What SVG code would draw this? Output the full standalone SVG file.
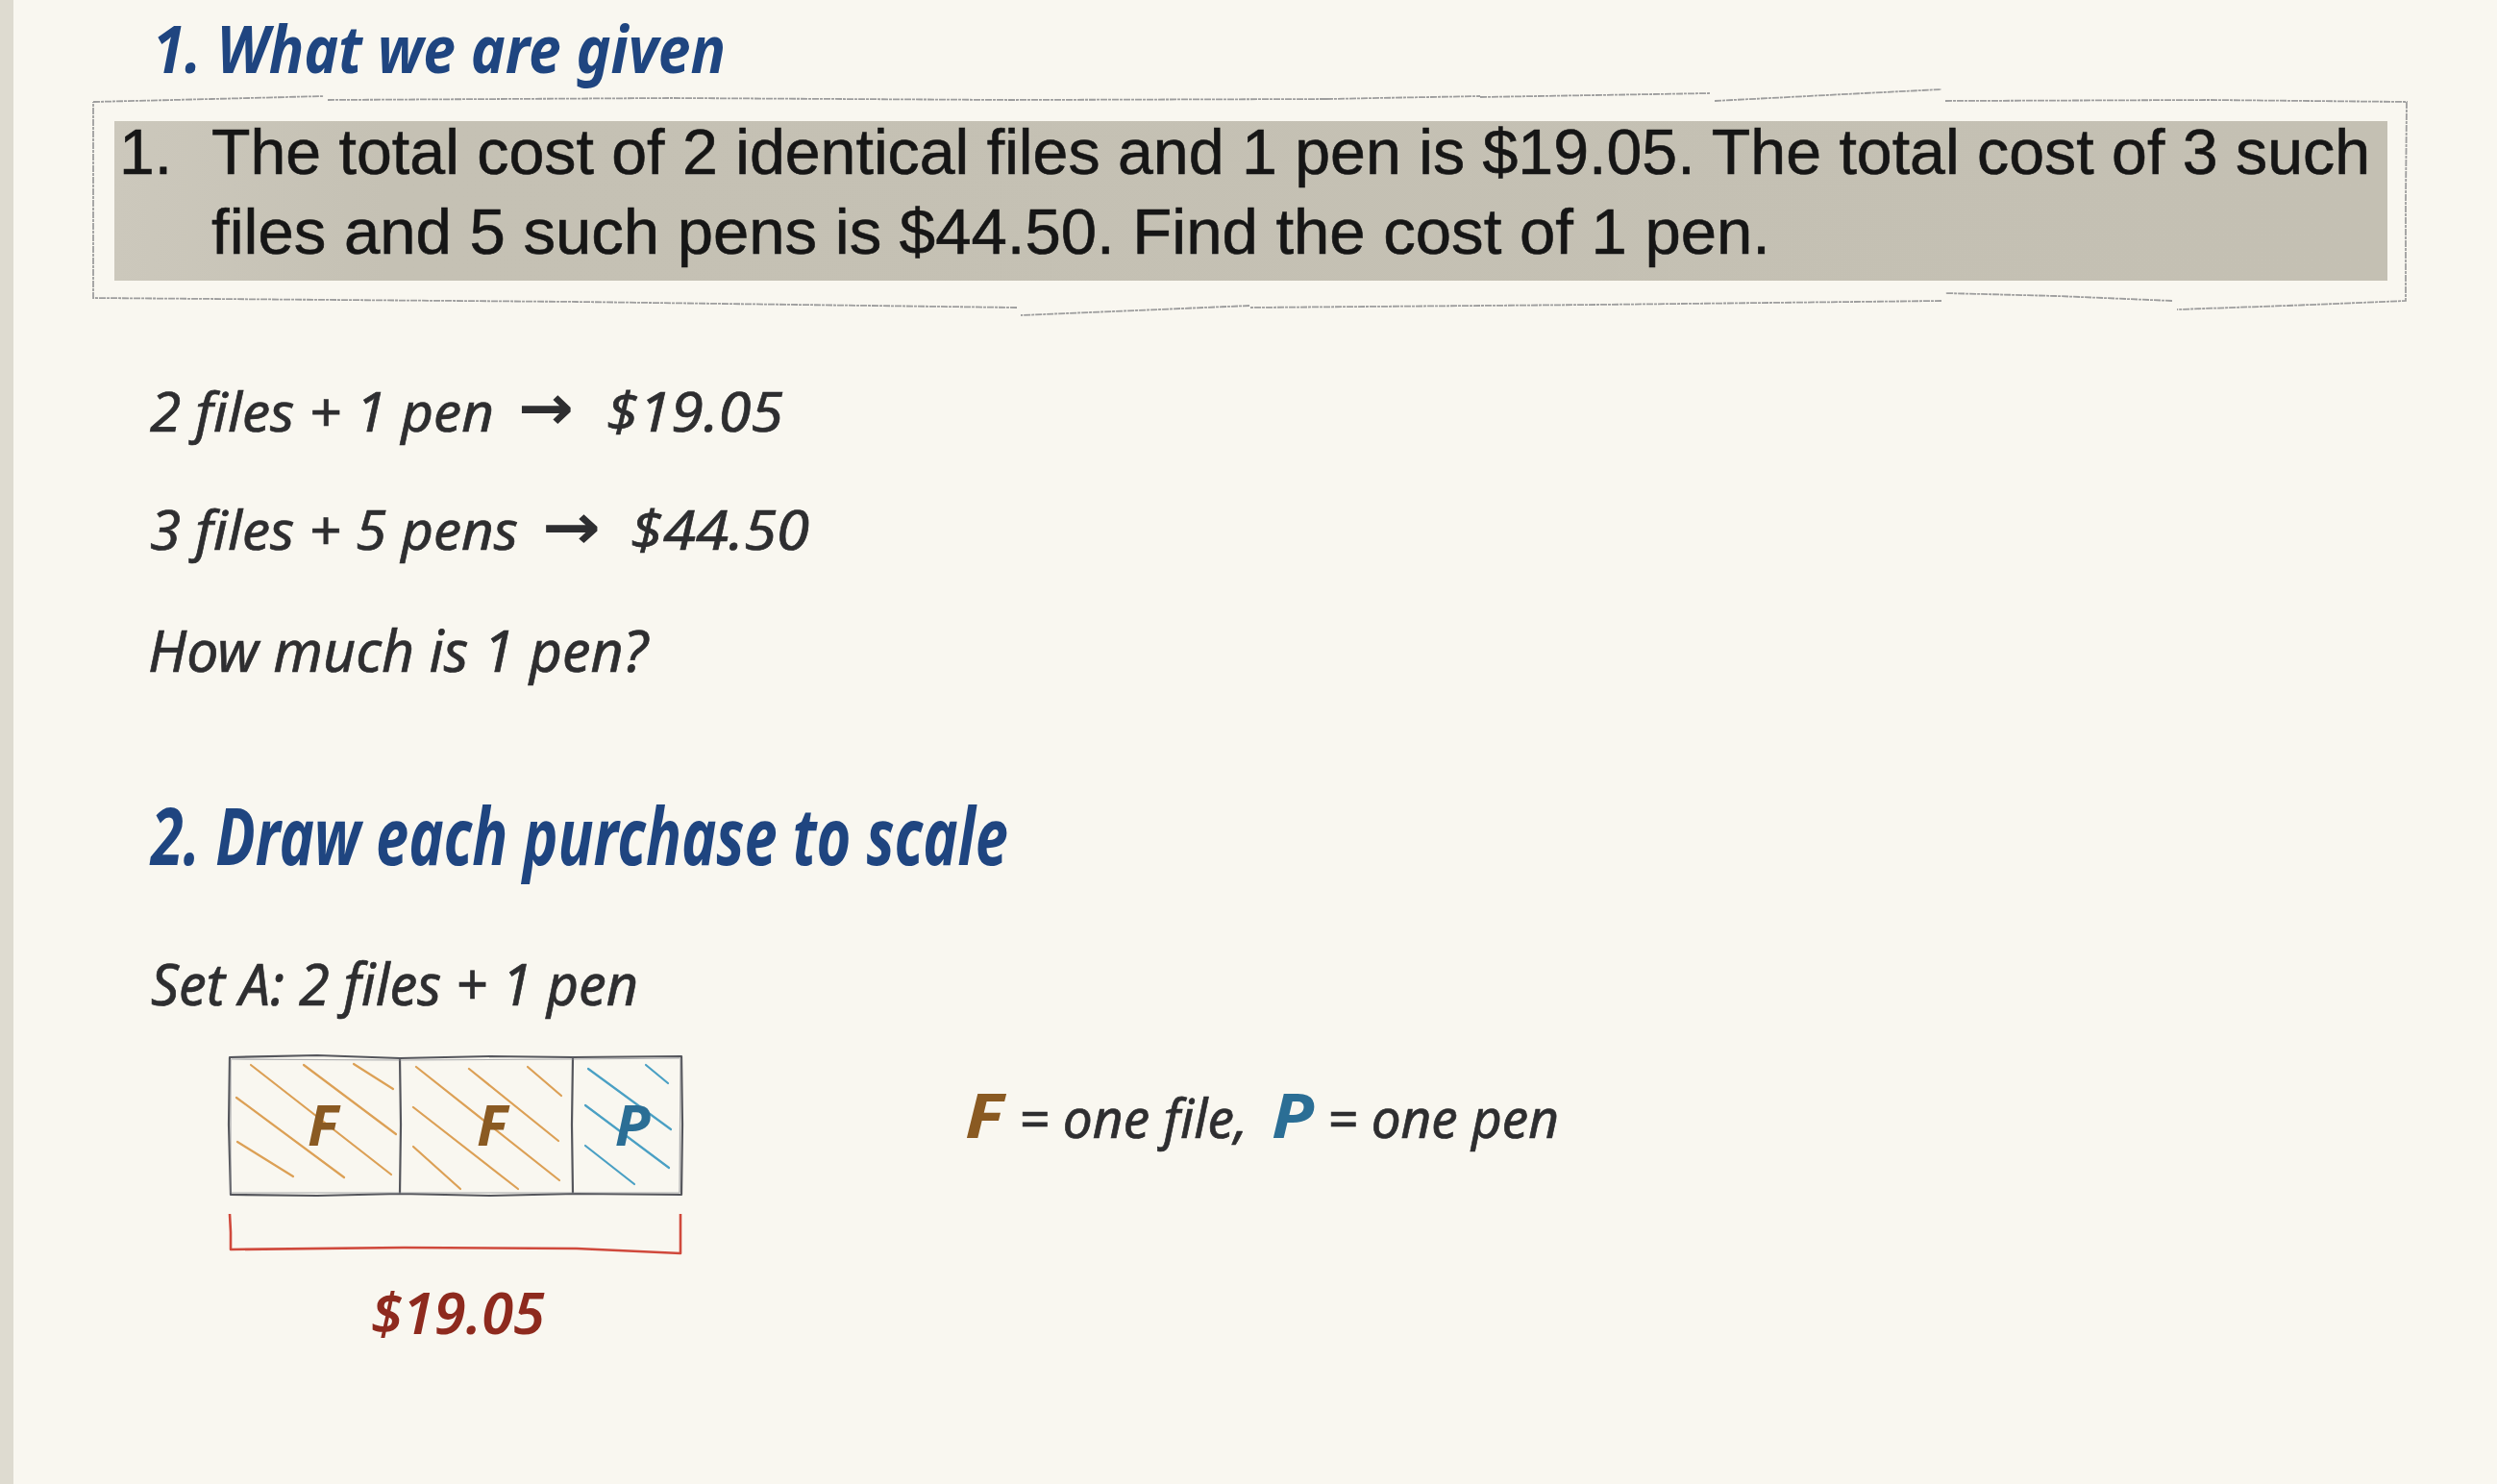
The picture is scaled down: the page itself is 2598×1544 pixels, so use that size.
<svg xmlns="http://www.w3.org/2000/svg" width="2598" height="1544" viewBox="0 0 2598 1544">
<defs>
<linearGradient id="paper" x1="0" y1="0" x2="1" y2="0">
<stop offset="0" stop-color="#ccc8bc"/>
<stop offset="0.12" stop-color="#c5c1b4"/>
<stop offset="1" stop-color="#c4c0b3"/>
</linearGradient>
</defs>
<style>
.hand{font-family:"Noto Sans","DejaVu Sans",sans-serif;font-style:italic;fill:#2e2e30;stroke:#2e2e30;stroke-width:0.7}
.head{font-family:"Noto Sans","DejaVu Sans",sans-serif;font-style:italic;font-weight:bold;fill:#1f4580}
.print{font-family:"Liberation Sans",Arial,sans-serif;fill:#161616;stroke:#161616;stroke-width:0.6}
.arrow{font-family:"DejaVu Sans",sans-serif;font-weight:bold;fill:#2e2e30}
.hatchF{stroke:#dca055;stroke-width:2.2;stroke-linecap:round;fill:none}
.hatchP{stroke:#4aa0c4;stroke-width:2.2;stroke-linecap:round;fill:none}
.cell{fill:none;stroke:#55565c;stroke-width:2.2;stroke-linejoin:round}
.cell2{fill:none;stroke:#8a8b92;stroke-width:1.2;opacity:0.7}
.torn{fill:none;stroke:#9e9e9e;stroke-width:1.8;stroke-dasharray:7 1 3 1}
.lblF{font-family:"Noto Sans","DejaVu Sans",sans-serif;font-style:italic;font-weight:bold;fill:#8a5a22}
.lblP{font-family:"Noto Sans","DejaVu Sans",sans-serif;font-style:italic;font-weight:bold;fill:#2b6e95}
</style>
<rect x="0" y="0" width="2598" height="1544" fill="#f9f7f0"/>
<rect x="0" y="0" width="14" height="1544" fill="#dedbd0"/>

<g id="heading1">
<text class="head" x="159" y="76" font-size="68" textLength="596" lengthAdjust="spacingAndGlyphs">1. What we are given</text>
</g>

<g id="problem">
<rect x="119" y="126" width="2365" height="166" fill="url(#paper)"/>
<path class="torn" d="M97,106 L220,103 L337,100 M341,104 L700,102 L1050,104 L1380,103 M1380,103 L1540,100 M1540,101 L1780,97 M1784,105 L1900,99 L2020,93 M2024,105 L2300,104 L2504,106 L2503,210 L2503,313 L2380,318 L2265,322 M2260,313 L2140,308 L2024,305 M2020,313 L1660,317 L1300,320 M1300,318 L1062,328 M1058,320 L600,314 L97,310 L97,200 L97,106"/>
<text class="print" x="124" y="181" font-size="66">1.</text>
<text class="print" x="220" y="181" font-size="66" textLength="2246" lengthAdjust="spacingAndGlyphs">The total cost of 2 identical files and 1 pen is $19.05. The total cost of 3 such</text>
<text class="print" x="220" y="264" font-size="66" textLength="1622" lengthAdjust="spacingAndGlyphs">files and 5 such pens is $44.50. Find the cost of 1 pen.</text>
</g>

<g id="given1">
<text class="hand" x="156" y="449" font-size="56" textLength="358" lengthAdjust="spacingAndGlyphs">2 files + 1 pen</text>
<text class="arrow" x="539" y="447" font-size="66" textLength="58" lengthAdjust="spacingAndGlyphs">→</text>
<text class="hand" x="631" y="449" font-size="56" textLength="184" lengthAdjust="spacingAndGlyphs">$19.05</text>
</g>
<g id="given2">
<text class="hand" x="156" y="572" font-size="56" textLength="383" lengthAdjust="spacingAndGlyphs">3 files + 5 pens</text>
<text class="arrow" x="564" y="571" font-size="66" textLength="61" lengthAdjust="spacingAndGlyphs">→</text>
<text class="hand" x="656" y="572" font-size="56" textLength="186" lengthAdjust="spacingAndGlyphs">$44.50</text>
</g>
<g id="question">
<text class="hand" x="154" y="699" font-size="60" textLength="520" lengthAdjust="spacingAndGlyphs">How much is 1 pen?</text>
</g>

<g id="heading2">
<text class="head" x="157" y="900" font-size="82" textLength="892" lengthAdjust="spacingAndGlyphs">2. Draw each purchase to scale</text>
</g>

<g id="setA-label">
<text class="hand" x="157" y="1046" font-size="60" textLength="507" lengthAdjust="spacingAndGlyphs">Set A: 2 files + 1 pen</text>
</g>

<g id="bar-setA">
<g id="hatch-f1">
<line class="hatchF" x1="368" y1="1107" x2="409" y2="1133"/>
<line class="hatchF" x1="316" y1="1108" x2="412" y2="1180"/>
<line class="hatchF" x1="261" y1="1108" x2="407" y2="1222"/>
<line class="hatchF" x1="246" y1="1142" x2="358" y2="1225"/>
<line class="hatchF" x1="247" y1="1188" x2="305" y2="1224"/>
</g>
<g id="hatch-f2">
<line class="hatchF" x1="549" y1="1110" x2="584" y2="1140"/>
<line class="hatchF" x1="488" y1="1112" x2="581" y2="1187"/>
<line class="hatchF" x1="433" y1="1110" x2="582" y2="1228"/>
<line class="hatchF" x1="430" y1="1152" x2="539" y2="1237"/>
<line class="hatchF" x1="430" y1="1193" x2="479" y2="1237"/>
</g>
<g id="hatch-p">
<line class="hatchP" x1="672" y1="1108" x2="695" y2="1127"/>
<line class="hatchP" x1="612" y1="1112" x2="698" y2="1175"/>
<line class="hatchP" x1="609" y1="1150" x2="696" y2="1215"/>
<line class="hatchP" x1="609" y1="1192" x2="660" y2="1232"/>
</g>
<path class="cell" d="M239,1100 L330,1098 L416,1101 L510,1099 L596,1100 L709,1099 L710,1170 L709,1243 L600,1242 L510,1244 L416,1242 L330,1244 L240,1243 L238,1170 Z M416,1101 L417,1170 L416,1242 M596,1100 L595,1170 L596,1242"/>
<path class="cell2" d="M241,1102 L416,1103 L596,1102 L707,1101 M708,1101 L707,1241 M707,1241 L240,1241 L240,1102"/>
<text class="lblF" x="336" y="1192" font-size="60" text-anchor="middle">F</text>
<text class="lblF" x="512" y="1192" font-size="60" text-anchor="middle">F</text>
<text class="lblP" x="658" y="1192" font-size="60" text-anchor="middle">P</text>
</g>

<g id="legend">
<text class="lblF" x="1004" y="1184" font-size="64" textLength="40" lengthAdjust="spacingAndGlyphs">F</text>
<text class="hand" x="1060" y="1184" font-size="56" textLength="238" lengthAdjust="spacingAndGlyphs">= one file,</text>
<text class="lblP" x="1323" y="1184" font-size="64" textLength="44" lengthAdjust="spacingAndGlyphs">P</text>
<text class="hand" x="1381" y="1184" font-size="56" textLength="241" lengthAdjust="spacingAndGlyphs">= one pen</text>
</g>

<g id="connectors">
<path d="M239,1263 L240,1282 L240,1300 L420,1298 L600,1299 L708,1304 L708,1284 L708,1263" fill="none" stroke="#d0493c" stroke-width="2.6" stroke-linejoin="round"/>
</g>

<g id="total-setA">
<text x="386" y="1388" font-size="60" font-family="Noto Sans, DejaVu Sans, sans-serif" font-style="italic" font-weight="600" fill="#8e2a1e" textLength="181" lengthAdjust="spacingAndGlyphs">$19.05</text>
</g>
</svg>
